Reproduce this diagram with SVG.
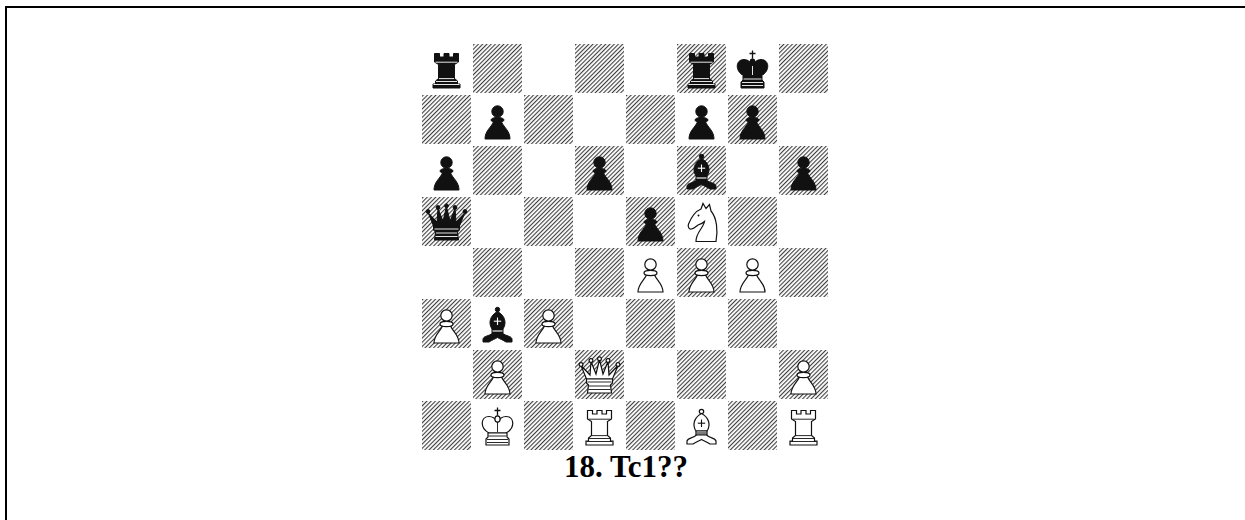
<svg xmlns="http://www.w3.org/2000/svg" xmlns:xlink="http://www.w3.org/1999/xlink" width="1245" height="520" viewBox="0 0 1245 520">
<style>
.bp{fill:#111;stroke:#111;stroke-width:1;color:#fff}
.wp{fill:#fff;stroke:#111;stroke-width:1.2;color:#111}
.dk{fill:url(#hatch)}
.cap{font-family:"Liberation Serif","Times New Roman",serif;font-weight:bold;font-size:31px;fill:#000}
</style>
<defs>
<pattern id="hatch" patternUnits="userSpaceOnUse" width="3" height="3" patternTransform="rotate(45)">
<rect width="3" height="3" fill="#fff"/>
<line x1="0.6" y1="0" x2="0.6" y2="3" stroke="#2a2a2a" stroke-width="1"/>
</pattern>
<g id="pawn">
<path d="M13 45 C13 37 19 33.5 21.5 28 L29.5 28 C32 33.5 38 37 38 45 Z"/>
<ellipse cx="25.5" cy="26" rx="6.5" ry="2.6"/>
<circle cx="25.5" cy="17.5" r="5.7"/>
</g>
<g id="rook">
<path d="M13.5 10.5 L18.5 10.5 L18.5 14 L23 14 L23 10.5 L28 10.5 L28 14 L32.5 14 L32.5 10.5 L37.5 10.5 L37.5 19 L33.5 21.5 L33.5 35.5 L36.5 38 L36.5 41 L39 41 L39 45 L12 45 L12 41 L14.5 41 L14.5 38 L17.5 35.5 L17.5 21.5 L13.5 19 Z"/>
<g fill="none" stroke="currentColor" stroke-width="0.9">
<line x1="14.5" y1="19.2" x2="36.5" y2="19.2"/>
<line x1="18" y1="35.6" x2="33" y2="35.6"/>
<line x1="15" y1="38.5" x2="36" y2="38.5"/>
<line x1="12.5" y1="41.5" x2="38.5" y2="41.5"/>
</g>
</g>
<g id="king">
<path d="M17 33 C7.5 28 8.5 16.5 17 16.5 C21 16.5 24 19.5 25.5 22.5 C27 19.5 30 16.5 34 16.5 C42.5 16.5 43.5 28 34 33 Z"/>
<ellipse cx="25.5" cy="19" rx="2.6" ry="3.2"/>
<path d="M16 33 L35 33 L35 37 L37 39 L37 45 L14 45 L14 39 L16 37 Z"/>
<path d="M25.5 7.5 L25.5 15.5 M22.5 10.5 L28.5 10.5" fill="none" stroke-width="1.3"/>
<g fill="none" stroke="currentColor" stroke-width="0.9">
<line x1="25.5" y1="23" x2="25.5" y2="32"/>
<line x1="16.5" y1="36" x2="34.5" y2="36"/>
<line x1="15" y1="39.5" x2="36" y2="39.5"/>
<line x1="15" y1="42.5" x2="36" y2="42.5"/>
</g>
</g>
<g id="queen">
<path d="M12.5 30 L7 16.5 L16 26 L17 12.5 L22 25 L25.5 10.5 L29 25 L34 12.5 L35 26 L44 16.5 L38.5 30 Z"/>
<circle cx="7" cy="15.5" r="1.9"/>
<circle cx="17" cy="11.5" r="1.9"/>
<circle cx="25.5" cy="9.8" r="1.9"/>
<circle cx="34" cy="11.5" r="1.9"/>
<circle cx="44" cy="15.5" r="1.9"/>
<path d="M12.5 30 L38.5 30 L38.5 34 L36.5 36 L37.5 44 L13.5 44 L14.5 36 L12.5 34 Z"/>
<g fill="none" stroke="currentColor" stroke-width="0.9">
<line x1="13.5" y1="33" x2="37.5" y2="33"/>
<line x1="15" y1="37" x2="36" y2="37"/>
<line x1="14.5" y1="40.5" x2="36.5" y2="40.5"/>
</g>
</g>
<g id="bishop">
<circle cx="25.5" cy="11.5" r="2.2"/>
<path d="M25.5 13.5 C33 17.5 35 25 31 31 L20 31 C16 25 18 17.5 25.5 13.5 Z"/>
<path d="M20 31 L31 31 L31 35 L20 35 Z"/>
<path d="M20.5 35 C17 38.5 12 37.5 11 41 L11 44 L17 44 C20 42 23 41 25.5 39.5 C28 41 31 42 34 44 L40 44 L40 41 C39 37.5 34 38.5 30.5 35 Z"/>
<g fill="none" stroke="currentColor" stroke-width="1.1">
<line x1="25.5" y1="19.5" x2="25.5" y2="27"/>
<line x1="21.8" y1="23.2" x2="29.2" y2="23.2"/>
<line x1="20.5" y1="33" x2="30.5" y2="33"/>
</g>
</g>
<g id="knight">
<path d="M20 45.5 L40 45.5 C42 35 41 22 35 15 L33.5 8.5 L30 12.5 L27 7.5 L25 13 C20 15 15 22 12.5 28 C11.5 31 13 33.5 15.5 33 C18 32.5 20 30.5 22 29 C25 28 27 27 28.5 25.5 C27.5 32 20 36 20 45.5 Z"/>
<circle cx="22.5" cy="19.5" r="1" fill="currentColor" stroke="none"/>
</g>
</defs>
<rect x="0" y="0" width="1245" height="520" fill="#fff"/>
<path d="M6 520 L6 7 L1245 7" fill="none" stroke="#000" stroke-width="2"/>
<g id="board">
<rect class="dk" x="473" y="44" width="49" height="49"/><rect class="dk" x="575" y="44" width="49" height="49"/><rect class="dk" x="677" y="44" width="49" height="49"/><rect class="dk" x="779" y="44" width="49" height="49"/>
<rect class="dk" x="422" y="95" width="49" height="49"/><rect class="dk" x="524" y="95" width="49" height="49"/><rect class="dk" x="626" y="95" width="49" height="49"/><rect class="dk" x="728" y="95" width="49" height="49"/>
<rect class="dk" x="473" y="146" width="49" height="49"/><rect class="dk" x="575" y="146" width="49" height="49"/><rect class="dk" x="677" y="146" width="49" height="49"/><rect class="dk" x="779" y="146" width="49" height="49"/>
<rect class="dk" x="422" y="197" width="49" height="49"/><rect class="dk" x="524" y="197" width="49" height="49"/><rect class="dk" x="626" y="197" width="49" height="49"/><rect class="dk" x="728" y="197" width="49" height="49"/>
<rect class="dk" x="473" y="248" width="49" height="49"/><rect class="dk" x="575" y="248" width="49" height="49"/><rect class="dk" x="677" y="248" width="49" height="49"/><rect class="dk" x="779" y="248" width="49" height="49"/>
<rect class="dk" x="422" y="299" width="49" height="49"/><rect class="dk" x="524" y="299" width="49" height="49"/><rect class="dk" x="626" y="299" width="49" height="49"/><rect class="dk" x="728" y="299" width="49" height="49"/>
<rect class="dk" x="473" y="350" width="49" height="49"/><rect class="dk" x="575" y="350" width="49" height="49"/><rect class="dk" x="677" y="350" width="49" height="49"/><rect class="dk" x="779" y="350" width="49" height="49"/>
<rect class="dk" x="422" y="401" width="49" height="49"/><rect class="dk" x="524" y="401" width="49" height="49"/><rect class="dk" x="626" y="401" width="49" height="49"/><rect class="dk" x="728" y="401" width="49" height="49"/>
</g>
<g id="pieces">
<g id="a8"><use href="#rook" x="421" y="43" class="bp"/></g>
<g id="f8"><use href="#rook" x="676" y="43" class="bp"/></g>
<g id="g8"><use href="#king" x="727" y="43" class="bp"/></g>
<g id="b7"><use href="#pawn" x="472" y="94" class="bp"/></g>
<g id="f7"><use href="#pawn" x="676" y="94" class="bp"/></g>
<g id="g7"><use href="#pawn" x="727" y="94" class="bp"/></g>
<g id="a6"><use href="#pawn" x="421" y="145" class="bp"/></g>
<g id="d6"><use href="#pawn" x="574" y="145" class="bp"/></g>
<g id="f6"><use href="#bishop" x="676" y="145" class="bp"/></g>
<g id="h6"><use href="#pawn" x="778" y="145" class="bp"/></g>
<g id="a5"><use href="#queen" x="421" y="196" class="bp"/></g>
<g id="e5"><use href="#pawn" x="625" y="196" class="bp"/></g>
<g id="f5"><use href="#knight" x="676" y="196" class="wp"/></g>
<g id="e4"><use href="#pawn" x="625" y="247" class="wp"/></g>
<g id="f4"><use href="#pawn" x="676" y="247" class="wp"/></g>
<g id="g4"><use href="#pawn" x="727" y="247" class="wp"/></g>
<g id="a3"><use href="#pawn" x="421" y="298" class="wp"/></g>
<g id="b3"><use href="#bishop" x="472" y="298" class="bp"/></g>
<g id="c3"><use href="#pawn" x="523" y="298" class="wp"/></g>
<g id="b2"><use href="#pawn" x="472" y="349" class="wp"/></g>
<g id="d2"><use href="#queen" x="574" y="349" class="wp"/></g>
<g id="h2"><use href="#pawn" x="778" y="349" class="wp"/></g>
<g id="b1"><use href="#king" x="472" y="400" class="wp"/></g>
<g id="d1"><use href="#rook" x="574" y="400" class="wp"/></g>
<g id="f1"><use href="#bishop" x="676" y="400" class="wp"/></g>
<g id="h1"><use href="#rook" x="778" y="400" class="wp"/></g>
</g>
<text class="cap" x="626" y="477" text-anchor="middle">18. Tc1??</text>
</svg>
